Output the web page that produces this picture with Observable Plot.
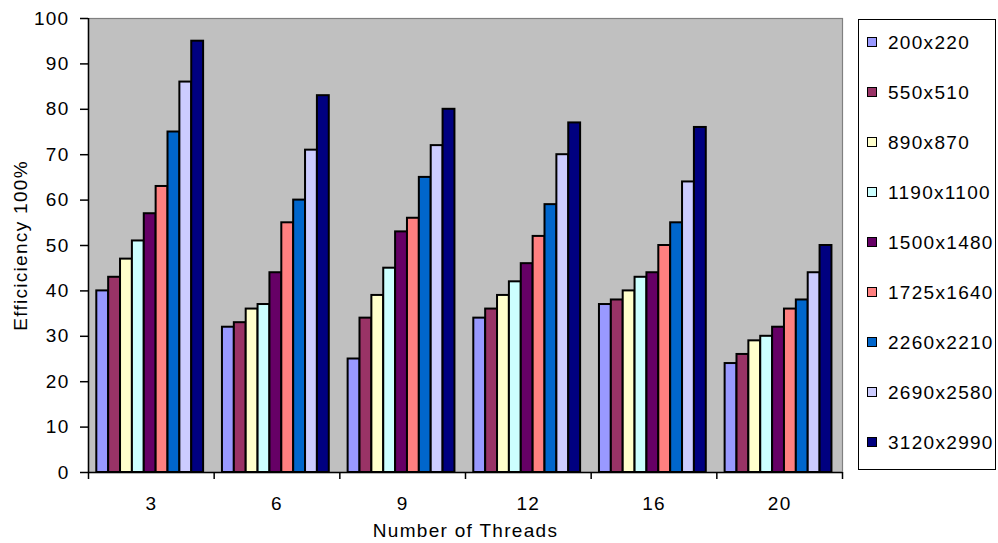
<!DOCTYPE html>
<html><head><meta charset="utf-8">
<script src="https://cdn.jsdelivr.net/npm/d3@7"></script>
<script src="https://cdn.jsdelivr.net/npm/@observablehq/plot@0.6"></script>
<style>
body{margin:0;background:#fff;}
#wrap{position:relative;width:998px;height:543px;font-family:"Liberation Sans",Arial,sans-serif;color:#000;}
#wrap svg text{letter-spacing:1.3px;}
#legend{position:absolute;left:858px;top:19px;width:138px;height:451px;border:1.5px solid #000;box-sizing:border-box;background:#fff;}
.row{position:absolute;left:8px;height:20px;display:flex;align-items:flex-start;font-size:19px;line-height:20px;letter-spacing:1.3px;white-space:nowrap;}
.sw{width:8px;height:8px;border:1px solid #000;margin-top:4px;margin-right:11px;flex:none;}
</style></head>
<body>
<div id="wrap"><div id="legend"></div></div>
<script>
const threads = ["3", "6", "9", "12", "16", "20"];
const series = ["200x220","550x510","890x870","1190x1100","1500x1480","1725x1640","2260x2210","2690x2580","3120x2990"];
const colors = ["#9999FF","#993366","#FFFFCC","#CCFFFF","#660066","#FF8080","#0066CC","#CCCCFF","#000080"];
// efficiency values per thread count, one entry per series
const eff3  = [40, 43, 47, 51, 57, 63, 75, 86, 95];
const eff6  = [32, 33, 36, 37, 44, 55, 60, 71, 83];
const eff9  = [25, 34, 39, 45, 53, 56, 65, 72, 80];
const eff12 = [34, 36, 39, 42, 46, 52, 59, 70, 77];
const eff16 = [37, 38, 40, 43, 44, 50, 55, 64, 76];
const eff20 = [24, 26, 29, 30, 32, 36, 38, 44, 50];
const yTicks = [0,10,20,30,40,50,60,70,80,90,100];

const groups = [eff3, eff6, eff9, eff12, eff16, eff20];
const pad = 0.066, bw = 0.85 / series.length;
const data = [];
groups.forEach((vals, gi) => vals.forEach((v, si) => data.push({
  thread: threads[gi], series: series[si], value: v,
  x1: gi + pad + si * bw, x2: gi + pad + (si + 1) * bw
})));

const chart = Plot.plot({
  width: 998, height: 543,
  marginLeft: 88, marginRight: 156, marginTop: 18, marginBottom: 71,
  style: {fontFamily: '"Liberation Sans", Arial, sans-serif', fontSize: "19px", background: "transparent", color: "#000"},
  x: {type: "linear", domain: [0, threads.length]},
  y: {domain: [0, 100]},
  color: {domain: series, range: colors},
  marks: [
    Plot.frame({fill: "#C0C0C0", stroke: "#808080", strokeWidth: 1.2}),
    Plot.rectY(data, {x1: "x1", x2: "x2", y1: 0, y2: "value", fill: "series", stroke: "#000", strokeWidth: 2}),
    Plot.ruleY([0], {stroke: "#000", strokeWidth: 1.5}),
    Plot.ruleX([0], {stroke: "#000", strokeWidth: 1.5}),
    Plot.axisY({ticks: yTicks, tickSize: 8, tickPadding: 11, strokeWidth: 1.5,
      label: "Efficiciency 100%", labelAnchor: "center", labelOffset: 75, labelArrow: "none"}),
    Plot.axisX({ticks: d3.range(0, threads.length + 1), tickSize: 7, strokeWidth: 1.5, tickFormat: () => "", label: null}),
    Plot.axisX({ticks: threads.map((t, i) => i + 0.5), tickSize: 0, tickPadding: 24,
      tickFormat: d => threads[Math.floor(d)],
      label: "Number of Threads", labelAnchor: "center", labelOffset: 64, labelArrow: "none"})
  ]
});
document.getElementById("wrap").prepend(chart);
chart.style.position = "absolute"; chart.style.left = "0"; chart.style.top = "0";

const legend = d3.select("#legend");
series.forEach((s, i) => {
  const row = legend.append("div").attr("class", "row").style("top", (13.3 + 50 * i) + "px");
  row.append("div").attr("class", "sw").style("background", colors[i]);
  row.append("span").text(s);
});
</script>
</body></html>
